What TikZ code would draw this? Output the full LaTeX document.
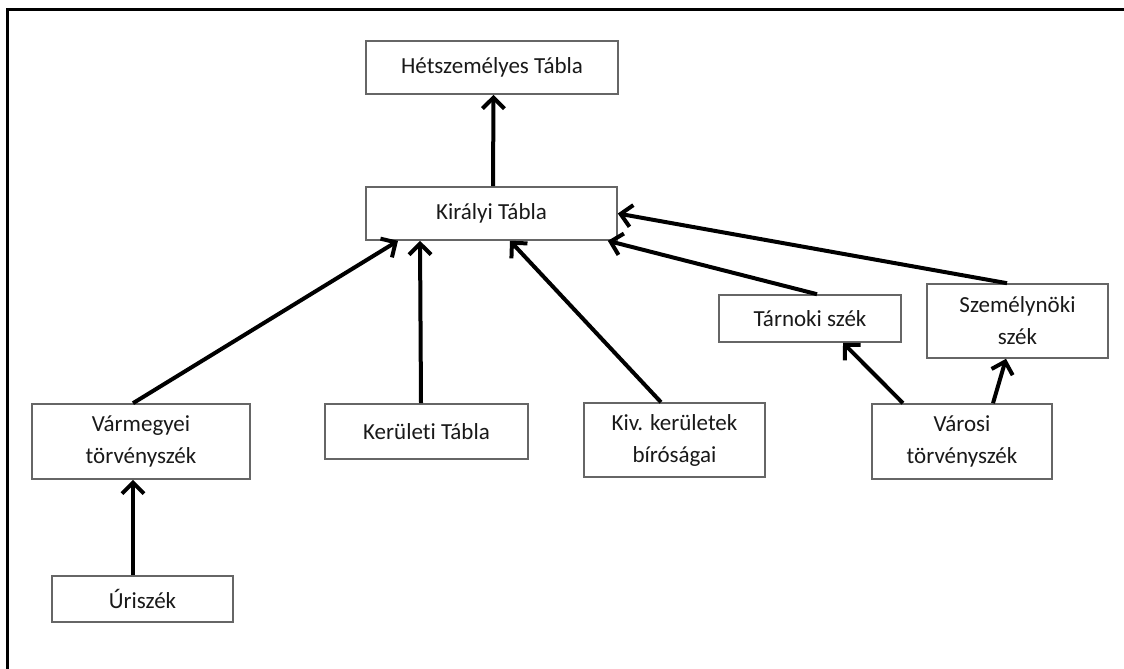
\documentclass[tikz,border=0pt]{standalone}
\usepackage{fontspec}
\setmainfont[Ligatures=NoCommon]{Carlito}
\usepackage{tikz}
\usetikzlibrary{arrows.meta,calc}

\begin{document}
\begin{tikzpicture}[x=1pt,y=-1pt,
    court/.style={draw=black!60, line width=1.6pt, fill=white, inner sep=0pt,
      align=center, text=black!90, font=\fontsize{23}{32}\selectfont},
    arr/.style={line width=4pt, -{Straight Barb[length=11pt,width=22pt,line width=4pt]}}]
    \useasboundingbox (0,0) rectangle (1124,669);
    % Frame
    \draw[line width=3pt] (7,669) -- (7,10) -- (1124,10);
    % Upper courts
    \node[court, minimum width=252pt, minimum height=53pt] (het) at (492,67.5) {Hétszemélyes Tábla};
    \node[court, minimum width=251pt, minimum height=53pt] (kir) at (491.5,213.5) {Királyi Tábla};
    % Middle row
    \node[court, minimum width=182pt, minimum height=47pt] (tar) at (810,318.5) {Tárnoki szék};
    \node[court, minimum width=181pt, minimum height=74pt] (szem) at (1017.5,321) {Személynöki\\szék};
    % Lower row
    \node[court, minimum width=218pt, minimum height=75pt] (vm) at (141,441.5) {Vármegyei\\törvényszék};
    \node[court, minimum width=203pt, minimum height=55pt] (ker) at (426.5,431.5) {Kerületi Tábla};
    \node[court, minimum width=181pt, minimum height=74pt] (kiv) at (674.5,440) {Kiv. kerületek\\bíróságai};
    \node[court, minimum width=180pt, minimum height=75pt] (var) at (962,441.5) {Városi\\törvényszék};
    \node[court, minimum width=181pt, minimum height=46pt] (uri) at (142.5,599) {Úriszék};
    % Appeals
    \draw[arr] ([xshift=1.5pt]kir.north) -- ([xshift=1.5pt]het.south);
    \draw[arr] ([xshift=-8pt]vm.north) -- ([xshift=-93.5pt]kir.south);
    \draw[arr] ([xshift=-5.5pt]ker.north) -- ([xshift=-71.5pt]kir.south);
    \draw[arr] ([xshift=-13.5pt]kiv.north) -- ([xshift=18.5pt]kir.south);
    \draw[arr] ([xshift=7pt]tar.north) -- ([xshift=-10pt]kir.south east);
    \draw[arr] ([xshift=-10.5pt]szem.north) -- (kir.east);
    \draw[arr] ([xshift=-59pt]var.north) -- ([xshift=33pt]tar.south);
    \draw[arr] ([xshift=31pt]var.north) -- ([xshift=-11.5pt]szem.south);
    \draw[arr] ([xshift=-9.5pt]uri.north) -- ([xshift=-8pt]vm.south);
\end{tikzpicture}
\end{document}
